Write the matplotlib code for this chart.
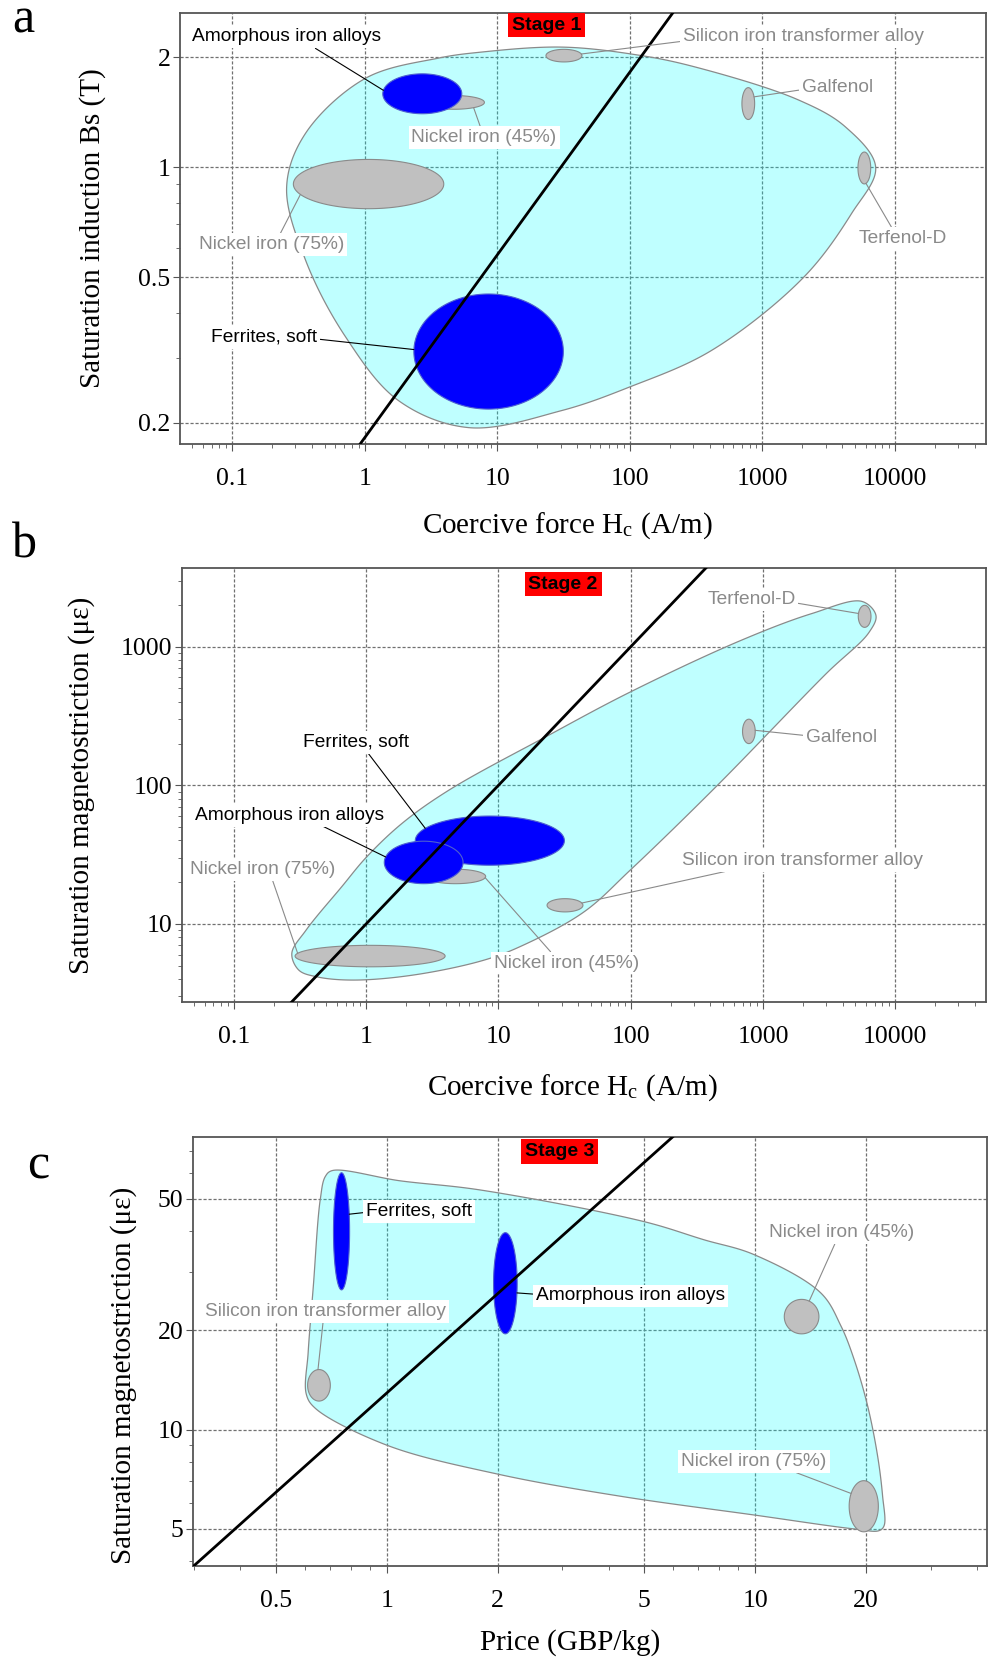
import matplotlib.pyplot as plt
import numpy as np
from matplotlib.ticker import FixedLocator, LogLocator, FuncFormatter, NullFormatter

plt.rcParams['font.family'] = ['Liberation Serif', 'DejaVu Serif']
plt.rcParams['mathtext.fontset'] = 'stix'

SANS = ['Liberation Sans', 'DejaVu Sans']

# property ranges (low, high) for every material
materials = ['Amorphous iron alloys', 'Ferrites, soft', 'Nickel iron (45%)',
             'Nickel iron (75%)', 'Silicon iron transformer alloy',
             'Galfenol', 'Terfenol-D']
highlighted = ['Amorphous iron alloys', 'Ferrites, soft']

coercive_lo = [1.37, 2.35, 2.8, 0.29, 23.3, 700, 5250]
coercive_hi = [5.4, 31.5, 8.0, 3.95, 43.5, 873, 6550]
induction_lo = [1.40, 0.218, 1.44, 0.77, 1.94, 1.35, 0.90]
induction_hi = [1.80, 0.45, 1.57, 1.05, 2.10, 1.65, 1.10]
magneto_lo = [19.5, 26.5, 19.5, 4.9, 12.2, 200, 1380]
magneto_hi = [39.5, 60.0, 24.8, 7.0, 15.2, 300, 1990]
price_lo = [1.95, 0.717, 12.0, 18.0, 0.61, np.nan, np.nan]
price_hi = [2.26, 0.793, 14.9, 21.6, 0.703, np.nan, np.nan]

# selection lines, y = coef * x**slope
line_a = (0.182, 0.5)
line_b = (10.0, 1.0)
line_c = (12.9, 1.0)

# envelope outlines around each family of bubbles
env_a_x = [30.6, 116, 313, 1876, 4240, 7140, 4710, 2045, 414, 98, 30.6, 6.1,
           1.8, 0.72, 0.359, 0.258, 0.359, 1.02, 3.6, 7.2]
env_a_y = [2.13, 2.025, 1.878, 1.526, 1.287, 1.0, 0.748, 0.50, 0.3156, 0.25,
           0.216, 0.194, 0.230, 0.343, 0.556, 0.882, 1.239, 1.752, 1.987, 2.06]

env_b_x = [0.274, 0.351, 0.652, 1.007, 1.87, 4.2, 23.8, 99, 678, 2350,
           5600, 7140, 6320, 2997, 439, 99, 44.3, 15.4, 7.76, 2.26, 0.784,
           0.423, 0.31]
env_b_y = [6.12, 9.01, 18.5, 30.4, 53.2, 92, 229, 471, 1109, 1738,
           2123, 1683, 1267, 638, 97.2, 24.4, 12.2, 7.02, 5.47, 4.27, 3.93,
           4.15, 4.63]

env_c_x = [0.711, 1.09, 1.796, 4.98, 7.26, 9.93, 15.07, 17.1, 18.57,
           20.2, 21.5, 22.18, 22.4, 21.7, 18.57, 9.93, 4.31, 2.0, 1.0,
           0.64, 0.605, 0.612, 0.632, 0.66, 0.681]
env_c_y = [60.9, 56.7, 53.2, 42.7, 37.6, 33.9, 25.95, 20.6, 16.3,
           11.8, 8.32, 6.30, 5.12, 4.94, 5.0, 5.51, 6.28, 7.33, 8.97,
           11.6, 12.8, 17.1, 27.1, 49.7, 58.4]

W, H = 990, 1657
fig = plt.figure(figsize=(W / 100, H / 100), dpi=100)


def add_box(left, top, right, bottom):
    return fig.add_axes([left / W, 1 - bottom / H, (right - left) / W, (bottom - top) / H])


def setup(ax, xlim, ylim, xmajor, ymajor):
    ax.set_xscale('log')
    ax.set_yscale('log')
    ax.set_xlim(*xlim)
    ax.set_ylim(*ylim)
    fmt = FuncFormatter(lambda v, _: f'{v:g}')
    for axis, major in ((ax.xaxis, xmajor), (ax.yaxis, ymajor)):
        axis.set_major_locator(FixedLocator(major))
        axis.set_minor_locator(LogLocator(subs=np.arange(2, 10), numticks=50))
        axis.set_major_formatter(fmt)
        axis.set_minor_formatter(NullFormatter())
    ax.set_axisbelow(True)
    ax.grid(True, which='major', color='#707070', linestyle=(0, (2.5, 1.5)), linewidth=0.9)
    ax.tick_params(which='both', direction='out', color='#555555', labelsize=18.5)
    ax.tick_params(which='major', length=5)
    ax.tick_params(which='minor', length=3)
    ax.tick_params(axis='x', pad=12)
    ax.tick_params(axis='y', pad=2)
    for s in ax.spines.values():
        s.set_color('#555555')
        s.set_linewidth(1.3)


def bubble_xy(x0, x1, y0, y1, t):
    lx = np.log10([x0, x1])
    ly = np.log10([y0, y1])
    return (10 ** (lx.mean() + (lx[1] - lx[0]) / 2 * np.cos(t)),
            10 ** (ly.mean() + (ly[1] - ly[0]) / 2 * np.sin(t)))


def closed_spline(P, n=40, alpha=0.5):
    # centripetal Catmull-Rom through the outline points
    P = np.asarray(P, dtype=float)
    m = len(P)
    out = []
    for i in range(m):
        p0, p1, p2, p3 = P[i - 1], P[i], P[(i + 1) % m], P[(i + 2) % m]
        t0 = 0.0
        t1 = t0 + np.linalg.norm(p1 - p0) ** alpha
        t2 = t1 + np.linalg.norm(p2 - p1) ** alpha
        t3 = t2 + np.linalg.norm(p3 - p2) ** alpha
        t = np.linspace(t1, t2, n, endpoint=False)[:, None]
        a1 = (t1 - t) / (t1 - t0) * p0 + (t - t0) / (t1 - t0) * p1
        a2 = (t2 - t) / (t2 - t1) * p1 + (t - t1) / (t2 - t1) * p2
        a3 = (t3 - t) / (t3 - t2) * p2 + (t - t2) / (t3 - t2) * p3
        b1 = (t2 - t) / (t2 - t0) * a1 + (t - t0) / (t2 - t0) * a2
        b2 = (t3 - t) / (t3 - t1) * a2 + (t - t1) / (t3 - t1) * a3
        out.append((t2 - t) / (t2 - t1) * b1 + (t - t1) / (t2 - t1) * b2)
    return np.vstack(out)


def envelope(ax, ex, ey):
    disp = ax.transData.transform(np.column_stack([ex, ey]))
    curve = ax.transData.inverted().transform(closed_spline(disp))
    ax.fill(curve[:, 0], curve[:, 1], color=(0, 1, 1), alpha=0.25, lw=0, zorder=1)
    ax.fill(curve[:, 0], curve[:, 1], fc='none', ec='#8a8a8a', lw=0.9, zorder=1.1)


def panel(ax, xlo, xhi, ylo, yhi, env_x, env_y, line, labels, stage, stage_pos):
    envelope(ax, env_x, env_y)
    t = np.linspace(0, 2 * np.pi, 200)
    order = [i for i, m in enumerate(materials) if m not in highlighted] + \
            [materials.index('Ferrites, soft'), materials.index('Amorphous iron alloys')]
    for i in order:
        if np.isnan(xlo[i]):
            continue
        bx, by = bubble_xy(xlo[i], xhi[i], ylo[i], yhi[i], t)
        if materials[i] in highlighted:
            ax.fill(bx, by, fc='#0000ff', ec='#4f5fd0', lw=0.8, zorder=3)
        else:
            ax.fill(bx, by, fc='#c0c0c0', ec='#8a8a8a', lw=0.8, zorder=3)

    xl = np.array(ax.get_xlim())
    coef, slope = line
    ax.plot(xl, coef * xl ** slope, color='black', lw=2.0, zorder=4)
    ax.set_xlim(*xl)

    for name, tx, ty, ha, rel, ang in labels:
        i = materials.index(name)
        color = 'black' if name in highlighted else '#8a8a8a'
        px, py = bubble_xy(xlo[i], xhi[i], ylo[i], yhi[i], np.deg2rad(ang))
        ax.annotate(name, xy=(px, py), xytext=(tx, ty), ha=ha, va='center',
                    fontsize=13.8, family=SANS, color=color, zorder=6,
                    bbox=dict(boxstyle='square,pad=0.15', fc='white', ec='none'),
                    arrowprops=dict(arrowstyle='-', color=color, lw=0.8,
                                    relpos=rel, shrinkA=0, shrinkB=0))

    ax.text(*stage_pos, stage, transform=ax.transAxes, ha='center', va='center',
            fontsize=14, fontweight='bold', family=SANS, zorder=7,
            bbox=dict(boxstyle='square,pad=0.2', fc='#ff0000', ec='none'))


hc_ticks = [0.1, 1, 10, 100, 1000, 10000]
hc_label = 'Coercive force H$_\\mathregular{c}$ (A/m)'
ms_label = 'Saturation magnetostriction (\u03bc\u03b5)'

# a: saturation induction vs coercive force
ax_a = add_box(180, 13, 986, 444)
setup(ax_a, (0.0405, 48500), (0.175, 2.64), hc_ticks, [0.2, 0.5, 1, 2])
labels_a = [
    ('Amorphous iron alloys', 0.256, 2.27, 'center', (0.63, 0), 170),
    ('Nickel iron (45%)', 7.96, 1.204, 'center', (0.48, 1), -50),
    ('Nickel iron (75%)', 0.199, 0.614, 'center', (0.55, 1), 205),
    ('Silicon iron transformer alloy', 250, 2.27, 'left', (0, 0.25), 15),
    ('Galfenol', 1976, 1.655, 'left', (0, 0.35), 25),
    ('Terfenol-D', 5310, 0.639, 'left', (0.39, 1), -75),
    ('Ferrites, soft', 0.175, 0.3425, 'center', (1, 0.4), 178),
]
panel(ax_a, coercive_lo, coercive_hi, induction_lo, induction_hi,
      env_a_x, env_a_y, line_a, labels_a, 'Stage 1', (0.455, 0.972))
ax_a.set_xlabel(hc_label, fontsize=21, va='top')
ax_a.xaxis.set_label_coords(0.480, -0.153)
ax_a.set_ylabel('Saturation induction Bs (T)', fontsize=21)
ax_a.yaxis.set_label_coords(-0.092, 0.5)

# b: magnetostriction vs coercive force
ax_b = add_box(182, 568, 986, 1002)
setup(ax_b, (0.0405, 48500), (2.73, 3700), hc_ticks, [10, 100, 1000])
labels_b = [
    ('Ferrites, soft', 0.834, 204, 'center', (0.6, 0), 150),
    ('Amorphous iron alloys', 0.2626, 60.8, 'center', (0.65, 0), 165),
    ('Nickel iron (75%)', 0.1657, 24.8, 'center', (0.56, 0), 165),
    ('Nickel iron (45%)', 32.5, 5.21, 'center', (0.41, 1), -10),
    ('Silicon iron transformer alloy', 246, 28.8, 'left', (0.23, 0), 20),
    ('Terfenol-D', 815, 2193, 'center', (1, 0.3), 165),
    ('Galfenol', 2118, 222, 'left', (0, 0.6), 5),
]
panel(ax_b, coercive_lo, coercive_hi, magneto_lo, magneto_hi,
      env_b_x, env_b_y, line_b, labels_b, 'Stage 2', (0.474, 0.963))
ax_b.set_xlabel(hc_label, fontsize=21, va='top')
ax_b.xaxis.set_label_coords(0.485, -0.161)
ax_b.set_ylabel(ms_label, fontsize=21)
ax_b.yaxis.set_label_coords(-0.108, 0.5)

# c: magnetostriction vs price
ax_c = add_box(193, 1137, 987, 1566)
setup(ax_c, (0.298, 42.6), (3.86, 77), [0.5, 1, 2, 5, 10, 20], [5, 10, 20, 50])
labels_c = [
    ('Ferrites, soft', 1.226, 45.8, 'center', (0, 0.45), 17),
    ('Silicon iron transformer alloy', 0.683, 22.8, 'center', (0.49, 0), 95),
    ('Amorphous iron alloys', 4.58, 25.4, 'center', (0, 0.6), -11),
    ('Nickel iron (45%)', 17.2, 39.5, 'center', (0.46, 0), 64),
    ('Nickel iron (75%)', 9.93, 8.01, 'center', (0.74, 0), 150),
]
panel(ax_c, price_lo, price_hi, magneto_lo, magneto_hi,
      env_c_x, env_c_y, line_c, labels_c, 'Stage 3', (0.4615, 0.967))
ax_c.set_xlabel('Price (GBP/kg)', fontsize=21, va='top')
ax_c.xaxis.set_label_coords(0.475, -0.148)
ax_c.set_ylabel(ms_label, fontsize=21)
ax_c.yaxis.set_label_coords(-0.071, 0.4435)

for letter, x, y in (('a', 23, 20), ('b', 24, 545), ('c', 38, 1166)):
    fig.text(x / W, 1 - y / H, letter, fontsize=36, ha='center', va='center')

fig.savefig('out.png', dpi=100)
